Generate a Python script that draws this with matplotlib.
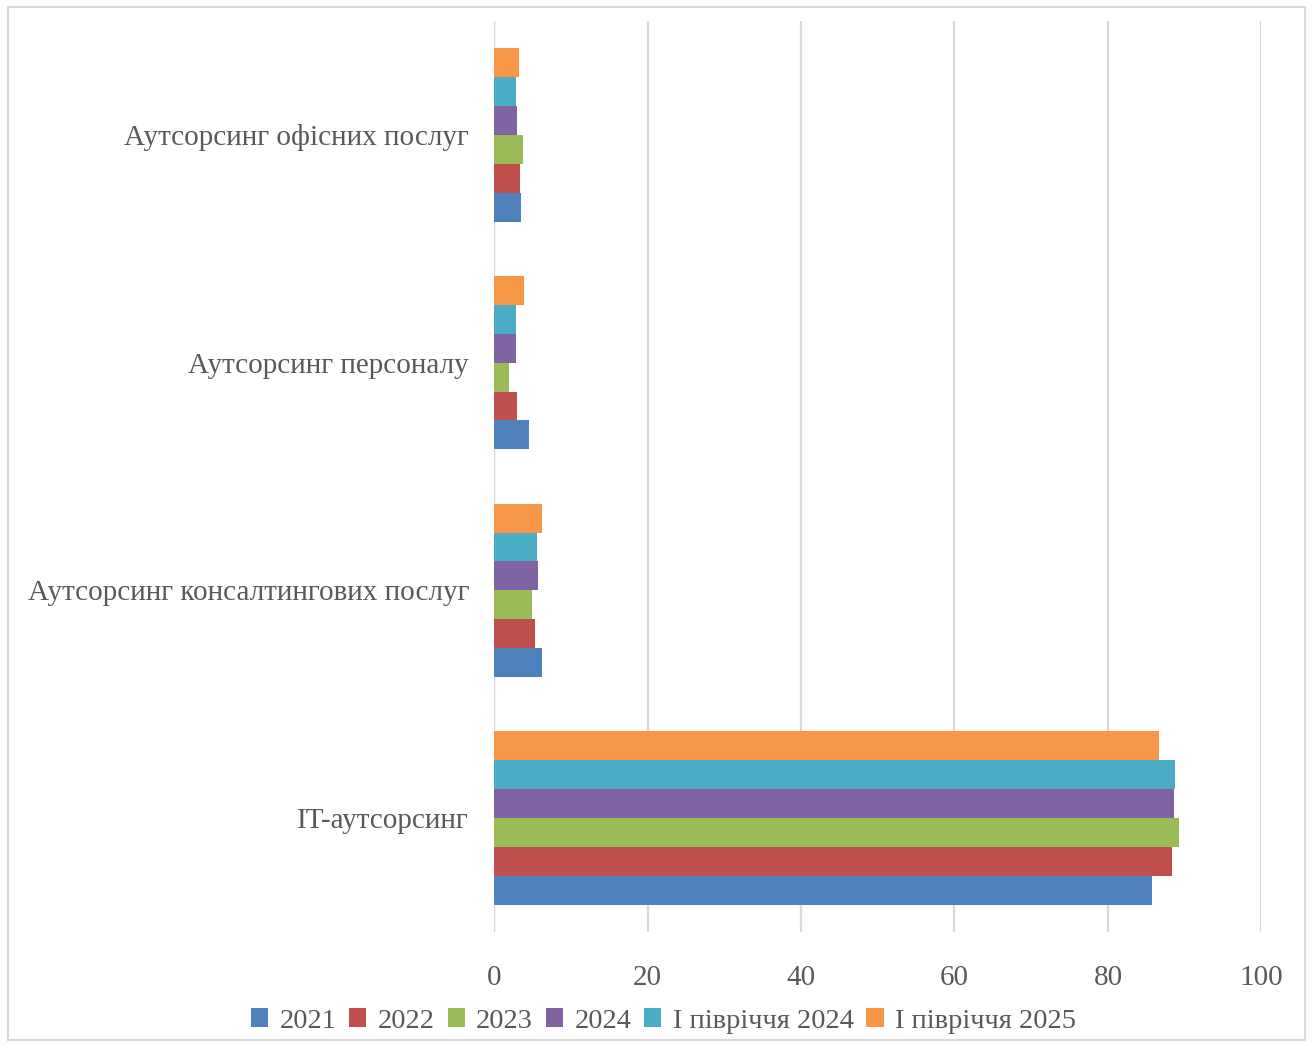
import matplotlib.pyplot as plt
import numpy as np
from matplotlib.patches import Rectangle

plt.rcParams['font.family'] = ['Liberation Serif', 'DejaVu Serif']

kategorije = ["IT-аутсорсинг", "Аутсорсинг консалтингових послуг",
              "Аутсорсинг персоналу", "Аутсорсинг офісних послуг"]
serije = ["2021", "2022", "2023", "2024", "І півріччя 2024", "І півріччя 2025"]
boje = ["#4f81bd", "#c0504d", "#9bbb59", "#8064a2", "#4bacc6", "#f79646"]

v2021 = [85.7, 6.2, 4.5, 3.5]
v2022 = [88.4, 5.3, 3.0, 3.4]
v2023 = [89.2, 4.9, 2.0, 3.8]
v2024 = [88.6, 5.7, 2.9, 3.0]
v2024h1 = [88.8, 5.6, 2.9, 2.9]
v2025h1 = [86.7, 6.2, 3.9, 3.3]
vrednosti = [v2021, v2022, v2023, v2024, v2024h1, v2025h1]

fig = plt.figure(figsize=(13.14, 10.45), dpi=100)
ax = fig.add_axes([0.376, 0.108, 0.584, 0.872])

y = np.arange(len(kategorije))
h = 0.127
for i, (ser, vals) in enumerate(zip(serije, vrednosti)):
    ax.barh(y + (i - 2.5) * h, vals, height=h, color=boje[i], label=ser, zorder=3)

ax.set_xlim(0, 100)
ax.set_ylim(-0.5, 3.5)
ax.set_xticks(range(0, 101, 20))
ax.set_yticks(y)
ax.set_yticklabels(kategorije)
ax.tick_params(length=0, labelsize=21, colors="#595959")
ax.tick_params(axis='x', pad=24)
ax.tick_params(axis='y', pad=18)
ax.grid(axis='x', color="#d9d9d9", linewidth=1.6, zorder=0)
for s in ax.spines.values():
    s.set_visible(False)
ax.axvline(0, color="#d9d9d9", linewidth=1.6, zorder=2)

ax.legend(loc='center', bbox_to_anchor=(0.505, 0.023), bbox_transform=fig.transFigure,
          ncol=6, frameon=False, fontsize=20.5, handlelength=0.6, handleheight=0.6,
          handletextpad=0.4, columnspacing=0.45, labelcolor="#595959")

fig.patches.append(Rectangle((0.006, 0.005), 0.987, 0.988, transform=fig.transFigure,
                             fill=False, edgecolor="#d9d9d9", linewidth=1.5))

fig.savefig("out.png", dpi=100)
